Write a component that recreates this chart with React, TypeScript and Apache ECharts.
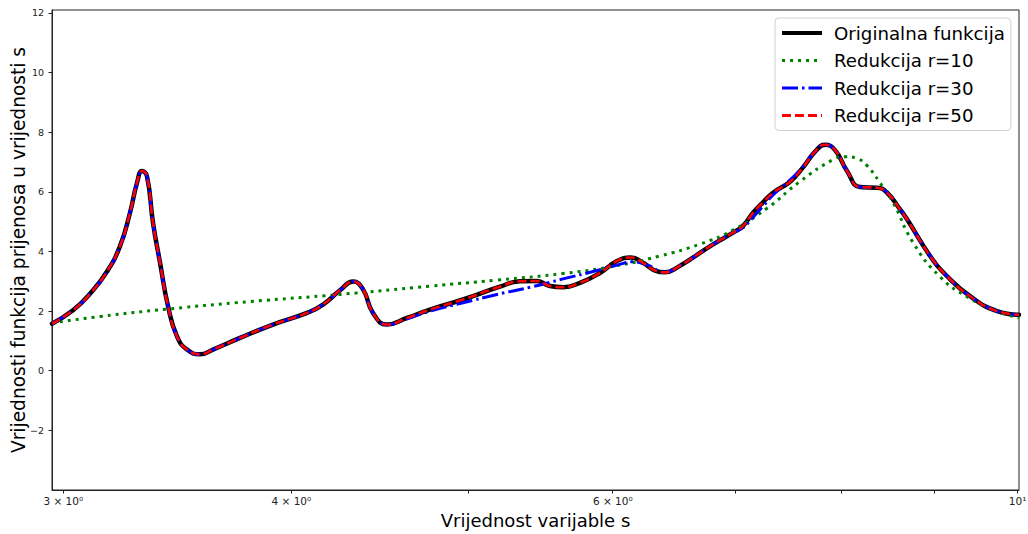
import React, { useEffect, useRef } from "react";
import * as echarts from "echarts";

// ---- data (s values and function values) ----
const origS = [
  2.9575, 3.0369, 3.1028, 3.17, 3.2224, 3.2633, 3.2923, 3.3131, 3.334, 3.3593,
  3.3892, 3.4236, 3.4627, 3.5066, 3.5646, 3.6236, 3.7491, 3.9085, 4.0799, 4.163,
  4.2533, 4.3236, 4.3785, 4.434, 4.5131, 4.6283, 4.7645, 4.967, 5.2044, 5.3373,
  5.453, 5.5433, 5.635, 5.7571, 5.9041, 6.0322, 6.1397, 6.2334, 6.3286, 6.4089,
  6.5067, 6.8096, 6.9835, 7.0721, 7.1618, 7.2527, 7.3447, 7.504, 7.6281, 7.7447,
  7.8429, 7.9425, 8.0638, 8.1972, 8.375, 8.4812, 8.6215, 8.6979, 8.9542, 9.1483,
  9.4173, 9.7434, 10.017,
];
const origY = [
  1.58, 2.03, 2.58, 3.33, 4.18, 5.3, 6.3, 6.7, 6.52, 4.97,
  3.63, 2.17, 1.15, 0.71, 0.55, 0.71, 1.1, 1.55, 1.94, 2.22,
  2.7, 2.99, 2.73, 1.94, 1.55, 1.77, 2.05, 2.39, 2.82, 3.0,
  3.01, 2.84, 2.8, 2.95, 3.28, 3.68, 3.8, 3.62, 3.36, 3.3,
  3.46, 4.24, 4.63, 4.86, 5.3, 5.65, 5.97, 6.34, 6.82, 7.35,
  7.58, 7.4, 6.7, 6.16, 6.14, 5.97, 5.41, 5.08, 3.85, 3.17,
  2.5, 2.0, 1.88,
];

const r10S = [
  2.9575, 3.1421, 3.4236, 3.7967, 4.2533, 4.7645, 5.1848, 5.635, 6.0018, 6.3686,
  6.6987, 6.9835, 7.2894, 7.5993, 7.9225, 8.0437, 8.1768, 8.2699, 8.4067, 8.5458,
  8.764, 9.0679, 9.3817, 9.7434, 10.017,
];
const r10Y = [
  1.6, 1.82, 2.07, 2.32, 2.56, 2.84, 3.04, 3.26, 3.5, 3.85,
  4.25, 4.72, 5.45, 6.35, 7.08, 7.18, 7.1, 6.88, 6.3, 5.64,
  4.3, 3.15, 2.48, 2.0, 1.78,
];

const r30S = [
  2.9575, 3.0369, 3.1028, 3.17, 3.2224, 3.2633, 3.2923, 3.3131, 3.334, 3.3593,
  3.3892, 3.4236, 3.4627, 3.5066, 3.5646, 3.6236, 3.7491, 3.9085, 4.0799, 4.163,
  4.2533, 4.3236, 4.3785, 4.434, 4.5131, 4.6283, 4.7645, 4.967, 5.1848, 5.4057,
  5.635, 5.8828, 6.0789, 6.1397, 6.2659, 6.4089, 6.5067, 6.8096, 6.9835, 7.0721,
  7.1618, 7.2527, 7.3447, 7.504, 7.6281, 7.7447, 7.8429, 7.9425, 8.0638, 8.1972,
  8.375, 8.4812, 8.6215, 8.6979, 8.9542, 9.1483, 9.4173, 9.7434, 10.017,
];
const r30Y = [
  1.58, 2.03, 2.58, 3.33, 4.18, 5.3, 6.3, 6.7, 6.52, 4.97,
  3.63, 2.17, 1.15, 0.71, 0.55, 0.71, 1.1, 1.55, 1.94, 2.22,
  2.7, 2.99, 2.73, 1.94, 1.55, 1.74, 2.0, 2.28, 2.56, 2.8,
  3.08, 3.36, 3.6, 3.66, 3.55, 3.3, 3.46, 4.24, 4.63, 4.8,
  5.15, 5.52, 5.9, 6.4, 6.85, 7.35, 7.58, 7.4, 6.7, 6.16,
  6.14, 5.97, 5.41, 5.08, 3.85, 3.17, 2.5, 2.0, 1.88,
];

// r=50 reduction coincides with the original function
const r50S = origS;
const r50Y = origY;

const seriesNames = [
  "Originalna funkcija",
  "Redukcija r=10",
  "Redukcija r=30",
  "Redukcija r=50",
];

const X_MIN = 2.9575;
const X_MAX = 10.017;
const xTickValues = [3, 4, 5, 6, 7, 8, 9, 10];
const xLabelValues = [3, 4, 6, 10];
const xLabelTexts = ["3 × 10⁰", "4 × 10⁰", "6 × 10⁰", "10¹"];
const yTickValues = [-2, 0, 2, 4, 6, 8, 10, 12];

const toPairs = (s: number[], y: number[]) => s.map((v, i) => [Math.log10(v), y[i]]);

const styles = [
  { color: "#000000", width: 4.5, type: "solid" as any, legendWidth: 4 },
  { color: "#008000", width: 3, type: [3, 5], legendWidth: 3 },
  { color: "#0000ff", width: 3, type: [16, 4, 2.5, 4], legendWidth: 3 },
  { color: "#ff0000", width: 2.6, type: [9, 4], legendWidth: 3 },
];

export default function App() {
  const ref = useRef<HTMLDivElement>(null);

  useEffect(() => {
    if (!ref.current) return;
    const chart = echarts.init(ref.current, undefined, { renderer: "svg" });
    const datasets = [
      toPairs(origS, origY),
      toPairs(r10S, r10Y),
      toPairs(r30S, r30Y),
      toPairs(r50S, r50Y),
    ];
    const font = "DejaVu Sans";
    chart.setOption({
      animation: false,
      backgroundColor: "#ffffff",
      textStyle: { fontFamily: font },
      grid: {
        left: 52,
        right: 9,
        top: 10,
        bottom: 44,
        show: true,
        borderColor: "#222",
        borderWidth: 1,
        backgroundColor: "transparent",
        containLabel: false,
        outerBoundsMode: "none",
      },
      legend: {
        show: true,
        orient: "vertical",
        left: 775,
        top: 18,
        padding: [5, 6, 5, 5],
        itemWidth: 40,
        itemHeight: 14,
        itemGap: 7.5,
        selectedMode: false,
        backgroundColor: "rgba(255,255,255,0.85)",
        borderColor: "#d0d0d0",
        borderWidth: 1,
        borderRadius: 4,
        textStyle: {
          fontFamily: font,
          fontSize: 18.2,
          color: "#000",
          lineHeight: 20,
          padding: [0, 0, 0, 7],
        },
        data: seriesNames.map((name, i) => ({
          name,
          itemStyle: { opacity: 0 },
          lineStyle: {
            color: styles[i].color,
            width: styles[i].legendWidth,
            type: styles[i].type,
            cap: "butt",
          },
        })),
      },
      xAxis: {
        type: "value",
        min: Math.log10(X_MIN),
        max: Math.log10(X_MAX),
        name: "Vrijednost varijable s",
        nameLocation: "middle",
        nameGap: 21,
        nameTextStyle: { fontSize: 18, color: "#000", fontFamily: font, width: 700, overflow: "none" },
        axisLine: { show: true, onZero: false, lineStyle: { color: "#222", width: 1 } },
        axisTick: {
          show: true,
          inside: false,
          length: 3.5,
          customValues: xTickValues.map((v) => Math.log10(v)),
          lineStyle: { color: "#222", width: 1 },
        },
        axisLabel: {
          customValues: xLabelValues.map((v) => Math.log10(v)),
          formatter: (v: number) => {
            const i = xLabelValues.findIndex((t) => Math.abs(Math.log10(t) - v) < 1e-6);
            return i >= 0 ? xLabelTexts[i] : "";
          },
          fontSize: 10.5,
          color: "#222",
          margin: 5,
          fontFamily: font,
        },
        splitLine: { show: false },
      },
      yAxis: {
        type: "value",
        min: -4,
        max: 12.1,
        name: "Vrijednosti funkcija prijenosa u vrijednosti s",
        nameLocation: "middle",
        nameGap: 24,
        nameMoveOverlap: false,
        nameTextStyle: { fontSize: 18.6, color: "#000", fontFamily: font, width: 700, overflow: "none" },
        axisLine: { show: true, onZero: false, lineStyle: { color: "#222", width: 1 } },
        axisTick: {
          show: true,
          inside: false,
          length: 3.5,
          customValues: yTickValues,
          lineStyle: { color: "#222", width: 1 },
        },
        axisLabel: {
          customValues: yTickValues,
          formatter: (v: number) => (v < 0 ? "−" + Math.abs(v) : String(v)),
          fontSize: 9.5,
          color: "#222",
          margin: 8,
          fontFamily: font,
        },
        splitLine: { show: false },
      },
      series: datasets.map((data, i) => ({
        name: seriesNames[i],
        type: "line",
        data,
        symbol: "none",
        showSymbol: false,
        smooth: 0.5,
        clip: true,
        z: 2 + i,
        itemStyle: { color: styles[i].color },
        lineStyle: {
          color: styles[i].color,
          width: styles[i].width,
          type: styles[i].type,
          cap: i === 0 ? "round" : "butt",
          join: "round",
        },
      })),
    });
    return () => chart.dispose();
  }, []);

  return (
    <div
      ref={ref}
      style={{ position: "fixed", left: 0, top: 0, width: 1028, height: 534, background: "#fff" }}
    />
  );
}
